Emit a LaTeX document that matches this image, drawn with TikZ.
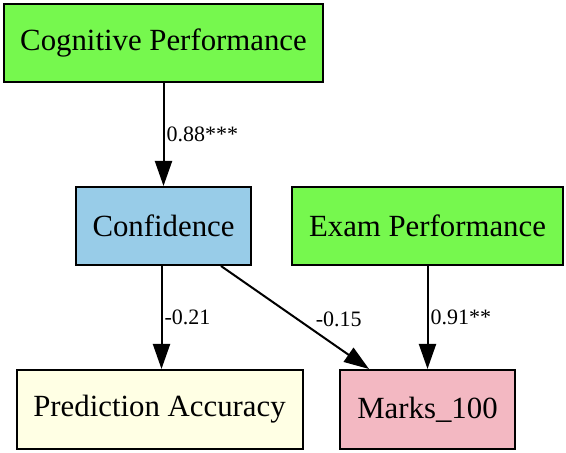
\documentclass[tikz,border=0pt]{standalone}
\usepackage{fontspec}
\setmainfont{Liberation Serif}
\usetikzlibrary{arrows.meta}

\definecolor{coggreen}{RGB}{118,248,78}
\definecolor{confblue}{RGB}{152,204,232}
\definecolor{predyellow}{RGB}{255,255,228}
\definecolor{markspink}{RGB}{243,184,194}

\begin{document}
\begin{tikzpicture}[x=0.5pt, y=-0.5pt,
	var/.style={draw, line width=1pt, inner sep=2pt, minimum height=39pt, font=\fontsize{15.4}{18}\selectfont},
	path/.style={draw, line width=1pt, -{Triangle[length=12.5pt, width=8.5pt]}},
	coef/.style={font=\fontsize{11}{13}\selectfont, inner sep=1pt}]
	\useasboundingbox (0,0) rectangle (566,453);
	\node[var, fill=coggreen, minimum width=159.5pt] (cog) at (163.5,43) {Cognitive Performance};
	\node[var, fill=confblue, minimum width=87.5pt] (conf) at (163.5,226) {Confidence};
	\node[var, fill=coggreen, minimum width=135.5pt] (exam) at (427.5,226) {Exam Performance};
	\node[var, fill=predyellow, minimum width=143pt, minimum height=39.5pt] (pred) at (159.5,409.5) {Prediction Accuracy};
	\node[var, fill=markspink, minimum width=87.5pt, minimum height=39.5pt] (marks) at (427.5,409.5) {Marks\_100};

	\draw[path] (cog) -- node[coef, anchor=west] {0.88***} (conf);
	\draw[path] ([xshift=-1pt]conf.south) -- node[coef, anchor=west, pos=0.5] {-0.21} ([xshift=1pt]pred.north);
	\draw[path] ([xshift=28.75pt]conf.south) -- node[coef, anchor=south west, pos=0.62] {-0.15} ([xshift=15pt]marks.north west);
	\draw[path] (exam) -- node[coef, anchor=west] {0.91**} (marks);
\end{tikzpicture}
\end{document}
